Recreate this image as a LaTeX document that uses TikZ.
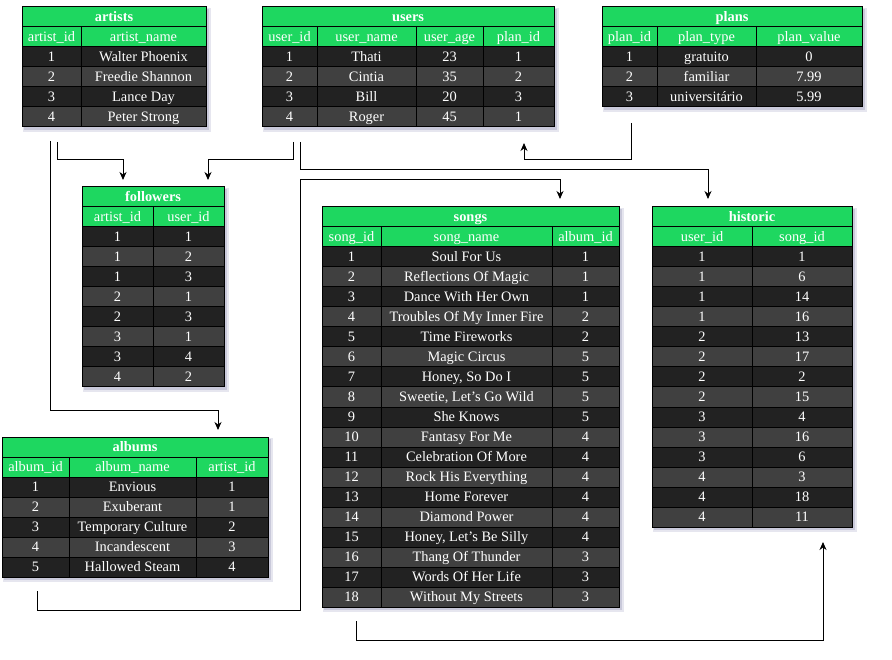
\documentclass[tikz,border=0pt]{standalone}
\usepackage{fontspec}
\setmainfont{Liberation Serif}
\usetikzlibrary{arrows.meta}
\definecolor{hdrgreen}{HTML}{1ED760}
\definecolor{rowdark}{HTML}{222222}
\definecolor{rowlight}{HTML}{404040}
\definecolor{shadA}{HTML}{C9C9DA}
\definecolor{shadB}{HTML}{E6E6EF}
\tikzset{
  cellbox/.style={draw=black, line width=1pt, inner sep=0pt, outer sep=0pt, text=white,
    font=\fontsize{14.4}{17}\selectfont, minimum height=20pt, text height=11.5pt, text depth=2.5pt},
  titlebox/.style={cellbox, fill=hdrgreen, font=\fontsize{14.4}{17}\selectfont\bfseries},
  link/.style={draw=black, line width=1pt, -{Stealth[length=8pt,width=7pt,inset=2.5pt]}},
}
\newcommand{\drow}[4]{%
  \foreach \celltxt [count=\ci] in #4 {%
    \pgfmathsetmacro\xa{\cols[\ci-1]}%
    \pgfmathsetmacro\xb{\cols[\ci]}%
    \node[cellbox, fill=#3, minimum width={(\xb-\xa)*1pt}] (#1-\ci) at ({(\xa+\xb)/2},{#2+10}) {\celltxt};
  }%
}
\newcommand{\dtable}[7]{%
  \def\cols{{#2}}%
  \pgfmathsetmacro\xl{\cols[0]}%
  \pgfmathtruncatemacro\ncol{dim(\cols)-1}%
  \pgfmathsetmacro\xr{\cols[\ncol]}%
  \pgfmathsetmacro\yb{#3+20*(#4+2)}%
  \fill[shadB] (\xl+1,#3+1) rectangle (\xr+5,\yb+5);
  \fill[shadA] (\xl+2,#3+2) rectangle (\xr+3,\yb+3);
  \node[titlebox, minimum width={(\xr-\xl)*1pt}] (#1-t) at ({(\xl+\xr)/2},{#3+10}) {#5};
  \def\hdrs{#6}%
  \drow{#1-h}{#3+20}{hdrgreen}{\hdrs}
  \foreach \rowtxt [count=\ri] in {#7} {%
    \ifodd\ri\relax\def\ff{rowdark}\else\def\ff{rowlight}\fi
    \drow{#1-\ri}{#3+20+20*\ri}{\ff}{\rowtxt}
  }%
}
\begin{document}
\begin{tikzpicture}[x=1pt,y=-1pt]
\useasboundingbox (0,0) rectangle (892,660);
\fill[white] (0,0) rectangle (892,660);

\dtable{art}{22,81,206}{7}{4}{artists}{artist\_id,artist\_name}%
  {{1,Walter Phoenix},{2,Freedie Shannon},{3,Lance Day},{4,Peter Strong}}
\dtable{usr}{262,317,416,483,554}{7}{4}{users}{user\_id,user\_name,user\_age,plan\_id}%
  {{1,Thati,23,1},{2,Cintia,35,2},{3,Bill,20,3},{4,Roger,45,1}}
\dtable{pln}{602,657,756,862}{7}{3}{plans}{plan\_id,plan\_type,plan\_value}%
  {{1,gratuito,0},{2,familiar,7.99},{3,universitário,5.99}}
\dtable{fol}{82,153,224}{187}{8}{followers}{artist\_id,user\_id}%
  {{1,1},{1,2},{1,3},{2,1},{2,3},{3,1},{3,4},{4,2}}
\dtable{alb}{2,69,196,268}{437}{5}{albums}{album\_id,album\_name,artist\_id}%
  {{1,Envious,1},{2,Exuberant,1},{3,Temporary Culture,2},{4,Incandescent,3},{5,Hallowed Steam,4}}
\dtable{sng}{322,381,552,619}{207}{18}{songs}{song\_id,song\_name,album\_id}%
  {{1,Soul For Us,1},{2,Reflections Of Magic,1},{3,Dance With Her Own,1},
   {4,Troubles Of My Inner Fire,2},{5,Time Fireworks,2},{6,Magic Circus,5},
   {7,{Honey, So Do I},5},{8,{Sweetie, Let's Go Wild},5},{9,She Knows,5},
   {10,Fantasy For Me,4},{11,Celebration Of More,4},{12,Rock His Everything,4},
   {13,Home Forever,4},{14,Diamond Power,4},{15,{Honey, Let's Be Silly},4},
   {16,Thang Of Thunder,3},{17,Words Of Her Life,3},{18,Without My Streets,3}}
\dtable{his}{652,752,852}{207}{14}{historic}{user\_id,song\_id}%
  {{1,1},{1,6},{1,14},{1,16},{2,13},{2,17},{2,2},{2,15},{3,4},{3,16},{3,6},{4,3},{4,18},{4,11}}

% connector end points
\coordinate (artA) at (57,142);
\coordinate (folA) at (123,180);
\coordinate (usrA) at (293,142);
\coordinate (folB) at (208,180);
\coordinate (artB) at (50,141);
\coordinate (albA) at (218,430);
\coordinate (usrB) at (300,142);
\coordinate (hisA) at (708,199);
\coordinate (plnA) at (631,123);
\coordinate (usrC) at (524,143);
\coordinate (albB) at (37,591);
\coordinate (sngA) at (560,199);
\coordinate (sngB) at (356,621);
\coordinate (hisB) at (823,542);

\draw[link] (artA) -- (57,160) -- (123,160) -- (folA);
\draw[link] (usrA) -- (293,160) -- (208,160) -- (folB);
\draw[link] (artB) -- (50,410) -- (218,410) -- (albA);
\draw[link] (usrB) -- (300,170) -- (708,170) -- (hisA);
\draw[link] (plnA) -- (631,160) -- (524,160) -- (usrC);
\draw[link] (albB) -- (37,610) -- (300,610) -- (300,180) -- (560,180) -- (sngA);
\draw[link] (sngB) -- (356,640) -- (823,640) -- (hisB);
\end{tikzpicture}
\end{document}
